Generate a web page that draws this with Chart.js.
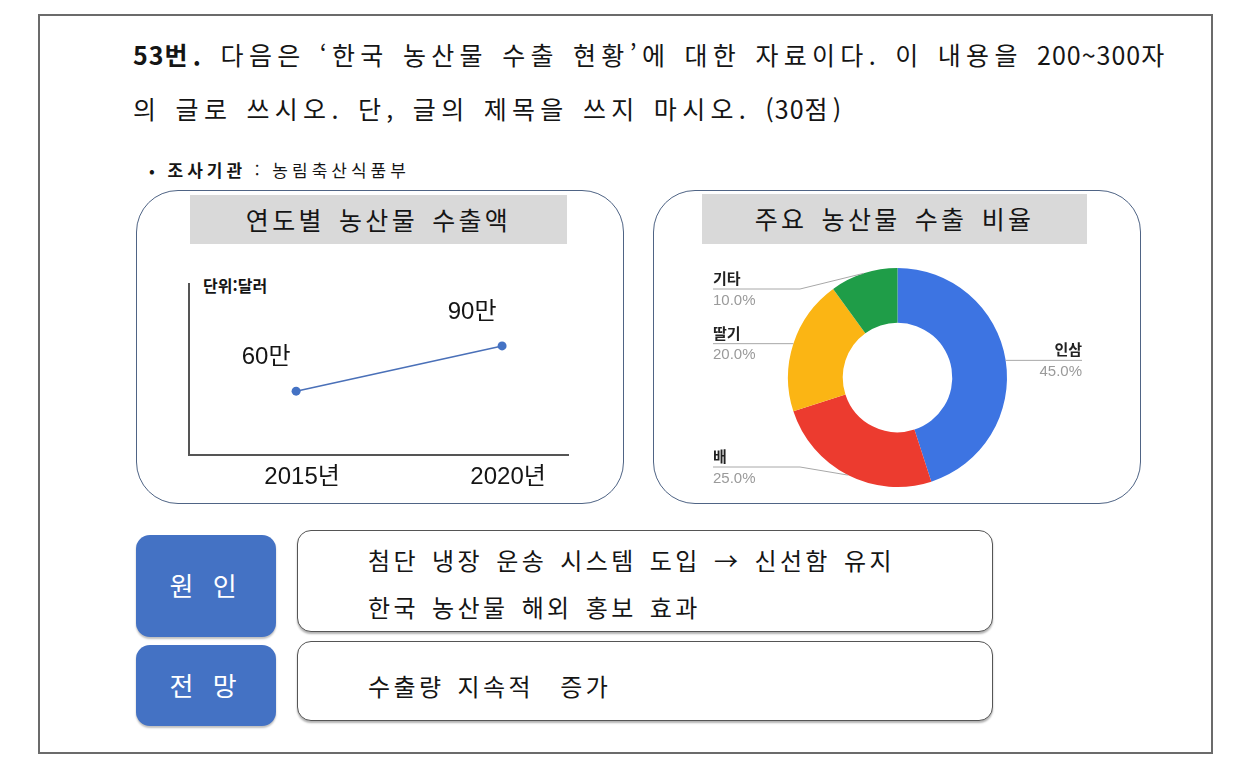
<!DOCTYPE html>
<html lang="ko">
<head>
<meta charset="utf-8">
<script src="https://cdn.jsdelivr.net/npm/chart.js@4"></script>
<style>
  body { margin:0; width:1260px; height:767px; background:#fff; position:relative; overflow:hidden;
         font-family:"Noto Sans CJK KR", sans-serif; color:#151515; }
  .abs { position:absolute; }
  #frame { left:38px; top:14px; width:1171px; height:736px; border:2px solid #6b6b6b; }
  .q { left:133px; font-size:25px; line-height:30px; letter-spacing:5.3px; word-spacing:2px; white-space:nowrap; }
  .q .n { letter-spacing:1px; }
  #bullet { left:149px; top:159px; font-size:17px; line-height:22px; letter-spacing:4px; white-space:nowrap; }
  .card { border:1.5px solid #4f6485; border-radius:42px; background:#fff; }
  .bar { background:#d9d9d9; font-size:25px; line-height:49px; text-align:center; letter-spacing:3.3px; word-spacing:4px; }
  .tag { left:136px; width:140px; background:#4472c4; border-radius:14px; color:#fff; font-size:26px;
         text-align:center; letter-spacing:6px; box-shadow:0 2px 2px rgba(0,0,0,.25); }
  .note { left:297px; width:694px; border:1.5px solid #555; border-radius:14px; background:#fff;
          box-shadow:0 2px 2px rgba(0,0,0,.3); }
  .note div { position:absolute; left:70px; font-size:24px; line-height:30px; letter-spacing:3.4px; word-spacing:3px; white-space:nowrap; }
  #unit { left:203px; top:274px; font-size:16px; font-weight:bold; line-height:22px; }
</style>
</head>
<body>
<div id="frame" class="abs"></div>

<div class="abs q" style="top:39px"><b><span class="n">53</span>번.</b> 다음은 ‘한국 농산물 수출 현황’에 대한 자료이다. 이 내용을 <span class="n">200~300</span>자</div>
<div class="abs q" style="top:93px">의 글로 쓰시오. 단, 글의 제목을 쓰지 마시오. <span class="n">(30</span>점)</div>
<div id="bullet" class="abs">•&nbsp;<b>조사기관</b> : 농림축산식품부</div>

<div class="abs card" style="left:136px; top:190px; width:486px; height:312px;"></div>
<div class="abs bar" style="left:190px; top:195px; width:377px; height:49px;">연도별 농산물 수출액</div>
<div id="unit" class="abs">단위:달러</div>
<div class="abs" style="left:150px; top:262px; width:440px; height:240px;">
  <canvas id="lineChart" width="440" height="240"></canvas>
</div>

<div class="abs card" style="left:653px; top:190px; width:486px; height:312px;"></div>
<div class="abs bar" style="left:702px; top:194px; width:385px; height:50px;">주요 농산물 수출 비율</div>
<div class="abs" style="left:700px; top:255px; width:400px; height:245px;">
  <canvas id="pieChart" width="400" height="245"></canvas>
</div>

<div class="abs tag" style="top:535px; height:102px; line-height:100px;">원 인</div>
<div class="abs tag" style="top:645px; height:81px; line-height:80px;">전 망</div>
<div class="abs note" style="top:530px; height:100px;">
  <div style="top:14px">첨단 냉장 운송 시스템 도입 → 신선함 유지</div>
  <div style="top:61px">한국 농산물 해외 홍보 효과</div>
</div>
<div class="abs note" style="top:641px; height:78px;">
  <div style="top:29px">수출량 지속적&nbsp; 증가</div>
</div>

<script>
// 연도별 농산물 수출액 (단위: 만 달러)
const years = [2015, 2020];
const yearLabels = ["2015년", "2020년"];
const exportValues = [60, 90];
const valueLabels = ["60만", "90만"];

// 주요 농산물 수출 비율 (%)
const cropNames = ["인삼", "배", "딸기", "기타"];
const cropShares = [45, 25, 20, 10];
const cropColors = ["#3d74e2", "#ec3b2f", "#fbb514", "#1f9d48"];

const latin = '"Liberation Sans", "Noto Sans CJK KR", sans-serif';

const valueLabelPlugin = {
  id: "valueLabels",
  afterDatasetsDraw(chart) {
    const ctx = chart.ctx;
    const meta = chart.getDatasetMeta(0);
    ctx.save();
    ctx.font = "24px " + latin;
    ctx.fillStyle = "#151515";
    ctx.textAlign = "center";
    ctx.textBaseline = "middle";
    meta.data.forEach((pt, i) => {
      ctx.fillText(valueLabels[i], pt.x - 30, pt.y - 34);
    });
    ctx.restore();
  }
};

new Chart(document.getElementById("lineChart"), {
  type: "line",
  data: {
    datasets: [{
      data: years.map((y, i) => ({ x: y, y: exportValues[i] })),
      borderColor: "#4a70b8",
      borderWidth: 1.5,
      pointRadius: 4.5,
      pointBackgroundColor: "#4472c4",
      pointBorderWidth: 0
    }]
  },
  options: {
    responsive: false,
    animation: false,
    layout: { padding: { left: 39, right: 22, top: 22, bottom: 2 } },
    plugins: { legend: { display: false }, tooltip: { enabled: false } },
    scales: {
      x: {
        type: "linear",
        min: 2012.4,
        max: 2021.6,
        afterBuildTicks: (s) => { s.ticks = years.map(v => ({ value: v })); },
        grid: { display: false, drawTicks: false },
        border: { display: true, color: "#555", width: 2 },
        ticks: {
          padding: 8,
          labelOffset: 6,
          autoSkip: false,
          maxRotation: 0,
          color: "#151515",
          font: { size: 24, family: latin },
          callback: (v) => yearLabels[years.indexOf(v)]
        }
      },
      y: {
        min: 17.6,
        max: 131,
        ticks: { display: false },
        grid: { display: false, drawTicks: false },
        border: { display: true, color: "#555", width: 2 }
      }
    }
  },
  plugins: [valueLabelPlugin]
});

const sliceLabelPlugin = {
  id: "sliceLabels",
  afterDatasetsDraw(chart) {
    const ctx = chart.ctx;
    const area = chart.chartArea;
    const meta = chart.getDatasetMeta(0);
    const total = cropShares.reduce((a, b) => a + b, 0);
    ctx.save();
    meta.data.forEach((arc, i) => {
      const mid = (arc.startAngle + arc.endAngle) / 2;
      const px = arc.x + Math.cos(mid) * arc.outerRadius;
      const py = arc.y + Math.sin(mid) * arc.outerRadius;
      const right = Math.cos(mid) > 0;
      const ly = Math.min(Math.max(py, area.top + 21), area.bottom - 20);
      const lx = right ? area.right + 75 : area.left - 75;
      const bend = right ? Math.max(px, area.right - 12) : Math.min(px, area.left + 12);

      ctx.strokeStyle = "#a8a8a8";
      ctx.lineWidth = 1;
      ctx.beginPath();
      ctx.moveTo(lx, ly);
      ctx.lineTo(bend, ly);
      ctx.lineTo(px, py);
      ctx.stroke();

      ctx.textAlign = right ? "right" : "left";
      ctx.font = "bold 15px " + latin;
      ctx.fillStyle = "#222";
      ctx.textBaseline = "alphabetic";
      ctx.fillText(cropNames[i], lx, ly - 5);
      ctx.font = "15px " + latin;
      ctx.fillStyle = "#9a9a9a";
      ctx.textBaseline = "top";
      ctx.fillText((cropShares[i] / total * 100).toFixed(1) + "%", lx, ly + 4);
    });
    ctx.restore();
  }
};

new Chart(document.getElementById("pieChart"), {
  type: "doughnut",
  data: {
    labels: cropNames,
    datasets: [{ data: cropShares, backgroundColor: cropColors, borderWidth: 0 }]
  },
  options: {
    responsive: false,
    animation: false,
    cutout: "50%",
    layout: { padding: { left: 88, right: 93, top: 13, bottom: 13 } },
    plugins: { legend: { display: false }, tooltip: { enabled: false } }
  },
  plugins: [sliceLabelPlugin]
});
</script>
</body>
</html>
